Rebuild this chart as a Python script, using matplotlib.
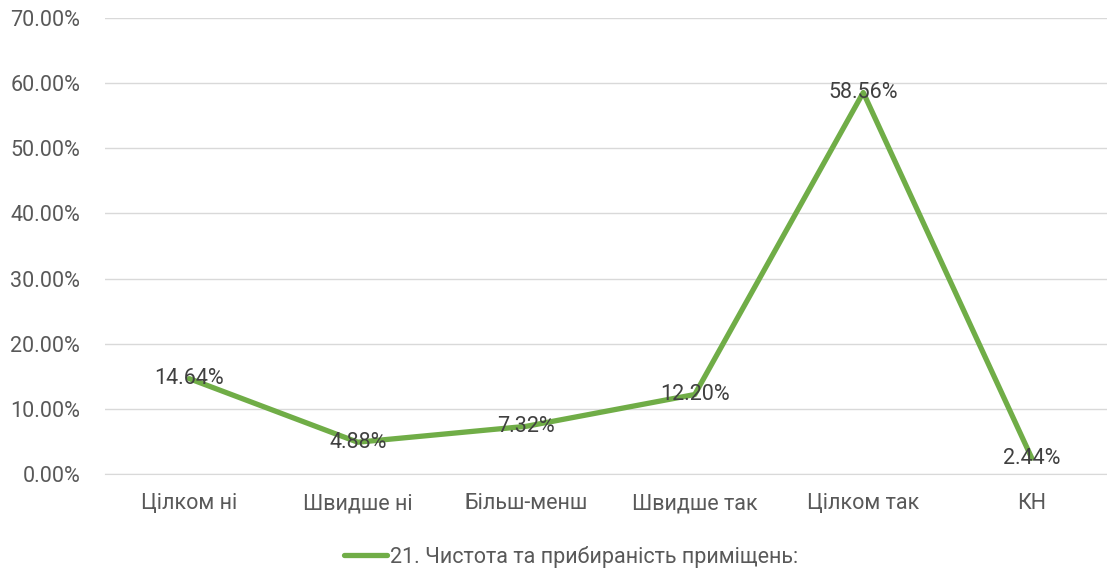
import matplotlib.pyplot as plt
import matplotlib.ticker as mtick

categories = ["Цілком ні", "Швидше ні", "Більш-менш", "Швидше так", "Цілком так", "КН"]
values = [14.64, 4.88, 7.32, 12.20, 58.56, 2.44]
series_name = "21. Чистота та прибираність приміщень:"

plt.rcParams['font.family'] = ['Roboto', 'DejaVu Sans']
text_color = "#595959"
line_color = "#70AD47"
fs = 15.5

fig = plt.figure(figsize=(11.07, 5.73), dpi=100)
ax = fig.add_axes([105 / 1107, 1 - 474 / 573, 1011 / 1107, (474 - 18) / 573])

x = list(range(len(categories)))
line, = ax.plot(x, values, color=line_color, linewidth=3.8, solid_capstyle="round",
                label=series_name)
for xi, v in zip(x, values):
    ax.text(xi, v, f"{v:.2f}%", ha="center", va="center", fontsize=fs, color="#404040")

ax.set_xlim(-0.5, len(categories) - 0.5)
ax.set_ylim(0, 70)
ax.set_yticks(range(0, 71, 10))
ax.yaxis.set_major_formatter(mtick.FuncFormatter(lambda v, p: f"{v:.2f}%"))
ax.set_xticks(x)
ax.set_xticklabels(categories)
ax.grid(axis="y", color="#D9D9D9", linewidth=1)
ax.set_axisbelow(True)
for s in ["top", "right", "left"]:
    ax.spines[s].set_visible(False)
ax.spines["bottom"].set_color("#D9D9D9")
ax.tick_params(axis="both", length=0, colors=text_color, labelsize=fs)
ax.tick_params(axis="x", pad=14)
ax.tick_params(axis="y", pad=18)

fig.legend(handles=[line], loc="center", bbox_to_anchor=(571 / 1107, 1 - 557 / 573),
           frameon=False, fontsize=fs, labelcolor=text_color, handlelength=2.0,
           handletextpad=0.1)

fig.savefig("out.png", dpi=100)
